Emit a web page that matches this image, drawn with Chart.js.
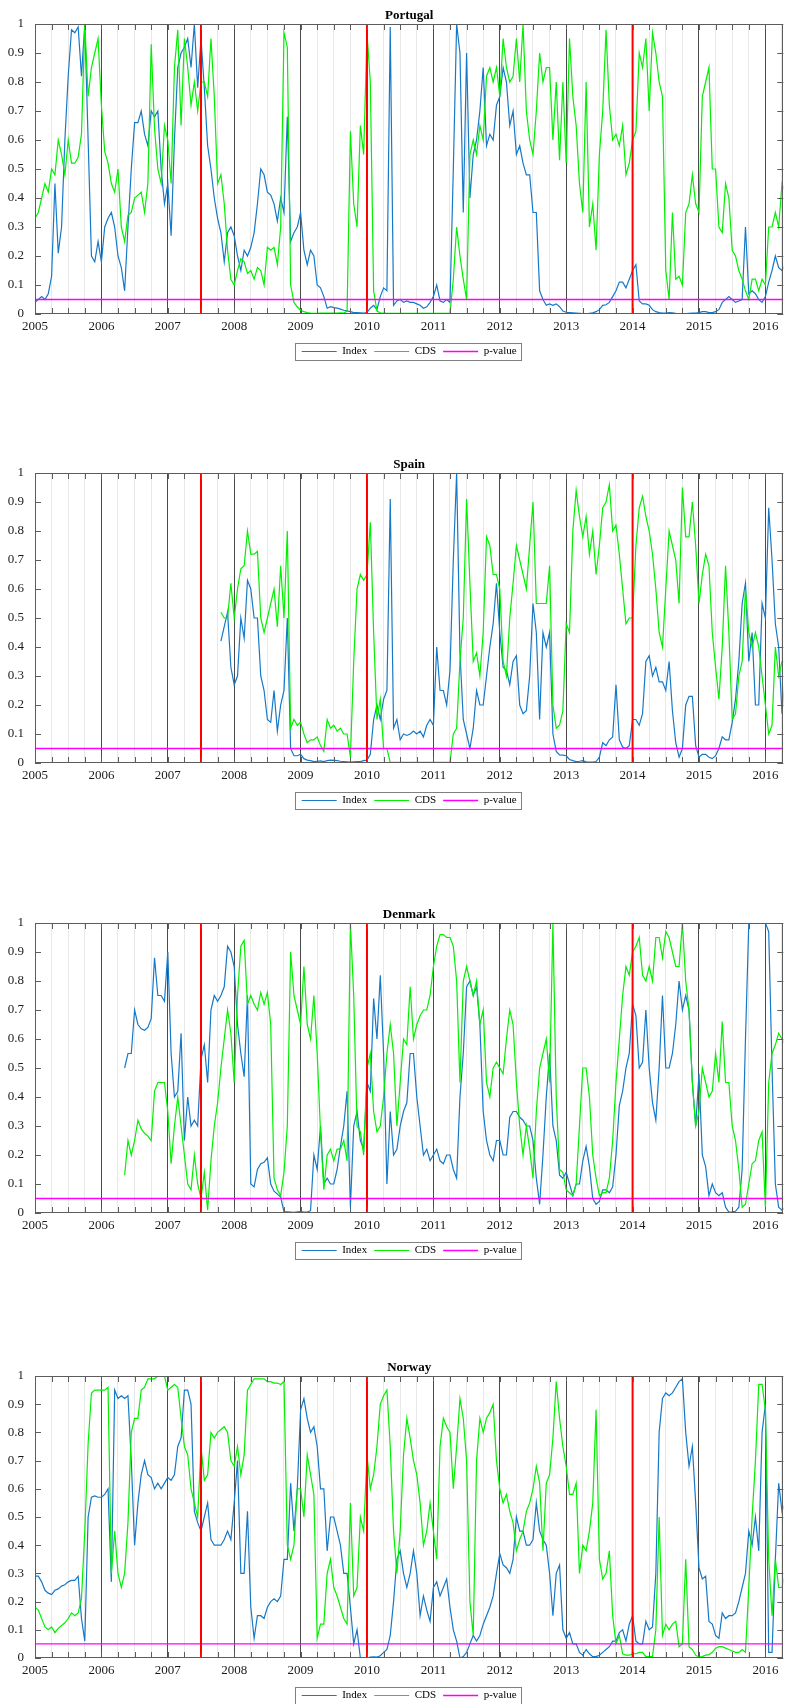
<!DOCTYPE html>
<html>
<head>
<meta charset="utf-8">
<script src="https://cdn.jsdelivr.net/npm/chart.js@4.4.1/dist/chart.umd.min.js"></script>
<style>
  html, body { margin: 0; padding: 0; background: #fff; }
  body { width: 787px; height: 1704px; position: relative; overflow: hidden; }
  .panel { position: absolute; left: 0; width: 787px; }
  .panel canvas { display: block; }
</style>
</head>
<body>
<div class="panel" style="top:0px"><canvas id="chart_0" width="787" height="367"></canvas></div>
<div class="panel" style="top:449px"><canvas id="chart_1" width="787" height="367"></canvas></div>
<div class="panel" style="top:899px"><canvas id="chart_2" width="787" height="367"></canvas></div>
<div class="panel" style="top:1352px"><canvas id="chart_3" width="787" height="359"></canvas></div>
<script>
// 日付軸 (2005年から0.05年刻み)
const START_YEAR = 2005;
const STEP = 0.05;
const X_MAX = 2016.27;
const breakYears = [2007.5, 2010, 2014];
const pValueLevel = 0.05;
const seriesNames = ["Index", "CDS", "p-value"];
const countries = ["Portugal", "Spain", "Denmark", "Norway"];

// Portugal
const portugalIndex = [
  0.04,0.05,0.06,0.05,0.07,0.13,0.45,0.21,0.30,0.60,0.82,0.98,0.97,0.99,0.82,1.00,0.60,0.20,0.18,0.25,
  0.18,0.30,0.33,0.35,0.30,0.20,0.16,0.08,0.30,0.50,0.66,0.66,0.70,0.62,0.58,0.70,0.68,0.70,0.50,0.38,
  0.45,0.27,0.60,0.85,0.90,0.92,0.95,0.85,1.00,0.78,0.95,0.78,0.58,0.50,0.40,0.33,0.28,0.18,0.28,0.30,
  0.27,0.20,0.15,0.22,0.20,0.23,0.28,0.38,0.50,0.48,0.42,0.41,0.38,0.32,0.40,0.35,0.68,0.25,0.28,0.30,
  0.35,0.22,0.17,0.22,0.20,0.10,0.09,0.06,0.02,0.025,0.022,0.02,0.017,0.013,0.011,0.008,0.005,0.005,0.004,0.003,
  0.005,0.02,0.03,0.015,0.06,0.09,0.08,0.99,0.03,0.045,0.05,0.04,0.045,0.04,0.04,0.035,0.03,0.02,0.025,0.04,
  0.06,0.10,0.045,0.04,0.05,0.04,0.50,1.00,0.90,0.35,0.90,0.40,0.55,0.60,0.70,0.85,0.58,0.62,0.60,0.72,
  0.75,0.85,0.80,0.65,0.70,0.55,0.58,0.52,0.48,0.48,0.35,0.35,0.08,0.05,0.03,0.035,0.03,0.035,0.025,0.01,
  0.006,0.005,0.004,0.003,0.002,0.001,0,0.002,0.004,0.008,0.015,0.03,0.032,0.04,0.06,0.08,0.11,0.11,0.09,0.12,
  0.15,0.17,0.045,0.035,0.035,0.03,0.015,0.008,0.005,0.003,0.003,0.005,0.004,0.002,0.001,0.001,0.001,0.002,0.003,0.003,
  0.005,0.008,0.008,0.005,0.005,0.008,0.015,0.04,0.05,0.06,0.05,0.04,0.045,0.05,0.30,0.07,0.08,0.07,0.05,0.04,
  0.06,0.11,0.15,0.20,0.16,0.15,0.17
];
const portugalCds = [
  0.33,0.35,0.40,0.45,0.42,0.50,0.48,0.60,0.55,0.48,0.60,0.52,0.52,0.54,0.62,1.00,0.75,0.85,0.90,0.95,
  0.72,0.56,0.52,0.45,0.42,0.50,0.30,0.25,0.34,0.35,0.40,0.41,0.42,0.35,0.45,0.93,0.64,0.50,0.45,0.65,
  0.60,0.45,0.85,0.98,0.65,0.95,0.85,0.72,0.80,0.70,0.80,0.80,0.75,0.95,0.75,0.45,0.48,0.38,0.22,0.12,
  0.10,0.15,0.19,0.18,0.14,0.15,0.12,0.16,0.15,0.10,0.23,0.22,0.23,0.17,0.30,0.97,0.92,0.10,0.04,0.025,
  0.012,0.008,0.005,0.003,0.002,0.002,0.003,0.003,0.003,0.003,0.003,0.003,0.004,0.003,0.01,0.63,0.38,0.30,0.65,0.55,
  0.97,0.80,0.08,0.01,0.004,0.003,0.002,0.002,0.002,0.002,0.002,0.002,0.002,0.002,0.002,0.002,0.002,0.002,0.002,0.002,
  0.002,0.002,0.002,0.002,0.002,0.002,0.12,0.30,0.20,0.12,0.05,0.55,0.60,0.55,0.65,0.60,0.82,0.85,0.80,0.85,
  0.75,0.95,0.85,0.80,0.82,0.95,0.80,1.00,0.70,0.60,0.55,0.70,0.90,0.80,0.85,0.85,0.60,0.80,0.53,0.80,
  0.52,0.95,0.75,0.65,0.45,0.35,0.80,0.30,0.38,0.22,0.55,0.70,0.98,0.72,0.60,0.62,0.58,0.65,0.48,0.52,
  0.60,0.63,0.90,0.85,0.95,0.70,0.97,0.90,0.80,0.75,0.15,0.05,0.35,0.12,0.13,0.10,0.35,0.38,0.48,0.38,
  0.35,0.75,0.80,0.85,0.50,0.50,0.30,0.28,0.45,0.40,0.22,0.20,0.15,0.12,0.08,0.05,0.12,0.12,0.08,0.12,
  0.10,0.30,0.30,0.35,0.30,0.45,0.42
];

// Spain
const spainIndex = [
  null,null,null,null,null,null,null,null,null,null,null,null,null,null,null,null,null,null,null,null,
  null,null,null,null,null,null,null,null,null,null,null,null,null,null,null,null,null,null,null,null,
  null,null,null,null,null,null,null,null,null,null,null,null,null,null,null,null,0.42,0.47,0.52,0.33,
  0.27,0.30,0.50,0.43,0.63,0.60,0.50,0.50,0.30,0.25,0.15,0.14,0.25,0.11,0.20,0.25,0.50,0.05,0.025,0.025,
  0.03,0.015,0.01,0.008,0.005,0.006,0.007,0.005,0.008,0.01,0.009,0.008,0.006,0.005,0.004,0.003,0.004,0.005,0.005,0.008,
  0.01,0.03,0.15,0.20,0.15,0.22,0.25,0.91,0.12,0.15,0.08,0.10,0.095,0.10,0.11,0.10,0.11,0.09,0.13,0.15,
  0.13,0.40,0.25,0.25,0.20,0.32,0.70,1.00,0.38,0.15,0.10,0.05,0.12,0.25,0.20,0.20,0.30,0.40,0.48,0.62,
  0.45,0.33,0.32,0.27,0.35,0.37,0.20,0.17,0.18,0.30,0.55,0.45,0.15,0.45,0.40,0.45,0.10,0.04,0.028,0.027,
  0.025,0.012,0.008,0.005,0.006,0.008,0.004,0.003,0.003,0.005,0.02,0.07,0.06,0.08,0.09,0.27,0.08,0.055,0.05,0.06,
  0.15,0.15,0.13,0.17,0.35,0.37,0.30,0.33,0.28,0.28,0.25,0.35,0.18,0.07,0.02,0.05,0.20,0.23,0.23,0.06,
  0.02,0.03,0.03,0.02,0.015,0.025,0.05,0.09,0.08,0.08,0.14,0.22,0.35,0.55,0.62,0.35,0.45,0.20,0.20,0.55,
  0.50,0.88,0.70,0.48,0.40,0.17,0.30
];
const spainCds = [
  null,null,null,null,null,null,null,null,null,null,null,null,null,null,null,null,null,null,null,null,
  null,null,null,null,null,null,null,null,null,null,null,null,null,null,null,null,null,null,null,null,
  null,null,null,null,null,null,null,null,null,null,null,null,null,null,null,null,0.52,0.50,0.50,0.62,
  0.50,0.60,0.67,0.68,0.80,0.72,0.72,0.73,0.50,0.45,0.50,0.55,0.60,0.47,0.68,0.50,0.80,0.12,0.15,0.13,
  0.14,0.10,0.07,0.08,0.08,0.09,0.06,0.04,0.15,0.12,0.13,0.11,0.12,0.10,0.10,0.02,0.35,0.60,0.65,0.63,
  0.65,0.83,0.45,0.15,0.22,0.05,0.05,0.002,0.002,0.002,0.002,0.002,0.002,0.002,0.002,0.002,0.002,0.002,0.002,0.002,
  0.002,0.002,0.002,0.002,0.002,0.002,0.10,0.12,0.35,0.50,0.91,0.62,0.35,0.38,0.30,0.45,0.78,0.75,0.65,0.65,
  0.60,0.35,0.30,0.50,0.62,0.75,0.70,0.65,0.60,0.75,0.90,0.55,0.55,0.55,0.55,0.68,0.20,0.12,0.13,0.18,
  0.48,0.45,0.80,0.94,0.85,0.78,0.85,0.72,0.80,0.65,0.75,0.88,0.90,0.96,0.80,0.82,0.72,0.60,0.48,0.50,
  0.50,0.75,0.88,0.92,0.85,0.80,0.72,0.60,0.45,0.40,0.60,0.80,0.75,0.70,0.55,0.95,0.78,0.78,0.90,0.75,
  0.55,0.65,0.72,0.68,0.45,0.33,0.22,0.40,0.68,0.45,0.15,0.17,0.30,0.35,0.60,0.45,0.40,0.45,0.40,0.30,
  0.20,0.10,0.13,0.40,0.30,0.35,0.35
];

// Denmark
const denmarkIndex = [
  null,null,null,null,null,null,null,null,null,null,null,null,null,null,null,null,null,null,null,null,
  null,null,null,null,null,null,null,0.50,0.55,0.55,0.70,0.65,0.635,0.63,0.64,0.67,0.88,0.75,0.75,0.73,
  0.90,0.55,0.40,0.42,0.62,0.25,0.40,0.30,0.32,0.30,0.53,0.58,0.45,0.70,0.75,0.73,0.75,0.78,0.92,0.90,
  0.85,0.65,0.55,0.47,0.75,0.10,0.09,0.15,0.17,0.175,0.19,0.10,0.075,0.065,0.055,0.004,0.004,0.003,0.002,0.004,
  0.005,0.003,0.003,0.008,0.20,0.15,0.30,0.10,0.12,0.10,0.10,0.15,0.23,0.30,0.42,0.02,0.30,0.35,0.25,0.22,
  0.45,0.42,0.74,0.60,0.82,0.55,0.10,0.35,0.20,0.22,0.30,0.35,0.38,0.55,0.55,0.40,0.30,0.20,0.22,0.18,
  0.20,0.22,0.18,0.17,0.20,0.20,0.15,0.12,0.40,0.55,0.78,0.80,0.75,0.78,0.65,0.35,0.25,0.20,0.18,0.25,
  0.25,0.20,0.20,0.33,0.35,0.35,0.33,0.32,0.30,0.30,0.25,0.12,0.03,0.20,0.40,0.55,0.30,0.25,0.13,0.12,
  0.14,0.10,0.06,0.10,0.10,0.18,0.23,0.16,0.05,0.03,0.04,0.08,0.08,0.07,0.09,0.20,0.37,0.42,0.50,0.55,
  0.72,0.68,0.50,0.52,0.70,0.50,0.38,0.32,0.50,0.75,0.50,0.50,0.55,0.65,0.80,0.70,0.75,0.70,0.45,0.30,
  0.48,0.20,0.16,0.06,0.10,0.07,0.06,0.07,0.02,0.003,0.004,0.006,0.02,0.15,0.60,1.00,1.00,1.00,1.00,1.00,
  1.00,0.97,0.50,0.10,0.02,0.01,0.02
];
const denmarkCds = [
  null,null,null,null,null,null,null,null,null,null,null,null,null,null,null,null,null,null,null,null,
  null,null,null,null,null,null,null,0.13,0.25,0.20,0.25,0.32,0.29,0.275,0.265,0.25,0.42,0.45,0.45,0.45,
  0.35,0.17,0.30,0.40,0.30,0.20,0.10,0.08,0.20,0.10,0.05,0.14,0.01,0.18,0.30,0.38,0.50,0.60,0.70,0.62,
  0.45,0.75,0.92,0.94,0.72,0.75,0.72,0.70,0.76,0.72,0.76,0.65,0.12,0.08,0.06,0.14,0.30,0.90,0.75,0.70,
  0.65,0.85,0.65,0.60,0.75,0.55,0.28,0.08,0.20,0.22,0.18,0.22,0.22,0.25,0.18,1.00,0.75,0.30,0.28,0.20,
  0.50,0.55,0.35,0.28,0.30,0.40,0.55,0.65,0.55,0.30,0.45,0.60,0.58,0.78,0.60,0.65,0.68,0.70,0.70,0.75,
  0.85,0.92,0.96,0.96,0.95,0.95,0.92,0.80,0.45,0.80,0.85,0.80,0.75,0.80,0.65,0.70,0.45,0.40,0.50,0.52,
  0.50,0.48,0.60,0.70,0.65,0.45,0.30,0.20,0.30,0.22,0.12,0.35,0.50,0.55,0.60,0.45,1.00,0.40,0.15,0.14,
  0.08,0.07,0.06,0.10,0.30,0.50,0.50,0.40,0.20,0.12,0.06,0.07,0.07,0.12,0.25,0.45,0.60,0.75,0.85,0.82,
  0.90,0.92,0.95,0.82,0.80,0.85,0.80,0.95,0.95,0.88,0.97,0.95,0.90,0.85,0.85,1.00,0.80,0.70,0.45,0.30,
  0.35,0.50,0.45,0.40,0.42,0.55,0.45,0.66,0.45,0.45,0.30,0.25,0.15,0.02,0.03,0.10,0.17,0.18,0.25,0.28,
  0.02,0.45,0.55,0.58,0.62,0.60,0.58
];

// Norway
const norwayIndex = [
  0.29,0.29,0.27,0.24,0.23,0.225,0.24,0.245,0.255,0.26,0.27,0.275,0.275,0.29,0.14,0.06,0.50,0.57,0.575,0.57,
  0.57,0.58,0.60,0.27,0.95,0.92,0.93,0.92,0.93,0.70,0.40,0.55,0.65,0.70,0.65,0.64,0.60,0.62,0.60,0.62,
  0.64,0.63,0.65,0.75,0.78,0.95,0.95,0.90,0.52,0.48,0.45,0.50,0.55,0.42,0.40,0.40,0.40,0.42,0.45,0.42,
  0.55,0.70,0.30,0.30,0.52,0.18,0.07,0.15,0.15,0.14,0.18,0.20,0.21,0.20,0.22,0.35,0.35,0.62,0.45,0.60,
  0.88,0.92,0.85,0.80,0.82,0.75,0.60,0.60,0.38,0.50,0.50,0.45,0.40,0.30,0.30,0.18,0.05,0.10,0,0,
  0,0.003,0.004,0.003,0.008,0.02,0.03,0.08,0.20,0.35,0.38,0.30,0.25,0.30,0.38,0.30,0.15,0.22,0.17,0.13,
  0.25,0.27,0.22,0.25,0.28,0.18,0.10,0.06,0,0.005,0.02,0.05,0.08,0.06,0.08,0.12,0.15,0.18,0.22,0.30,
  0.37,0.33,0.32,0.30,0.35,0.50,0.45,0.45,0.40,0.40,0.42,0.55,0.45,0.42,0.40,0.30,0.15,0.30,0.33,0.10,
  0.07,0.09,0.05,0.05,0.02,0.01,0.03,0.015,0.005,0.005,0.01,0.02,0.03,0.04,0.06,0.06,0.09,0.10,0.06,0.12,
  0.15,0.06,0.05,0.05,0.13,0.10,0.11,0.30,0.80,0.92,0.94,0.93,0.94,0.96,0.98,0.99,0.80,0.68,0.75,0.55,
  0.32,0.28,0.29,0.13,0.12,0.08,0.07,0.16,0.14,0.15,0.15,0.16,0.20,0.25,0.30,0.45,0.40,0.50,0.38,0.80,
  0.90,0.02,0.02,0.35,0.62,0.52,0.55
];
const norwayCds = [
  0.18,0.17,0.14,0.11,0.10,0.11,0.09,0.105,0.115,0.125,0.14,0.16,0.15,0.16,0.21,0.45,0.76,0.94,0.95,0.95,
  0.95,0.95,0.96,0.30,0.45,0.30,0.25,0.30,0.48,0.80,0.85,0.85,0.95,0.96,0.99,0.99,0.99,1.00,1.00,1.00,
  0.95,0.96,0.97,0.96,0.85,0.75,0.72,0.60,0.55,0.50,0.75,0.63,0.65,0.80,0.78,0.80,0.81,0.82,0.80,0.70,
  0.68,0.75,0.65,0.72,0.95,0.97,0.99,0.99,0.99,0.99,0.98,0.98,0.975,0.975,0.97,0.98,0.40,0.35,0.40,0.60,
  0.60,0.50,0.72,0.65,0.58,0.07,0.12,0.12,0.30,0.35,0.25,0.22,0.18,0.14,0.12,0.55,0.22,0.25,0.50,0.45,
  0.72,0.60,0.65,0.75,0.90,0.93,0.95,0.75,0.45,0.30,0.45,0.72,0.85,0.78,0.70,0.65,0.55,0.40,0.45,0.55,
  0.45,0.35,0.75,0.85,0.82,0.80,0.60,0.75,0.92,0.85,0.70,0.20,0.08,0.70,0.85,0.80,0.85,0.87,0.90,0.70,
  0.60,0.55,0.58,0.52,0.48,0.38,0.42,0.45,0.52,0.55,0.60,0.68,0.62,0.38,0.62,0.65,0.78,0.98,0.85,0.75,
  0.68,0.58,0.58,0.62,0.30,0.40,0.38,0.45,0.55,0.88,0.35,0.28,0.30,0.38,0.15,0.05,0.08,0.015,0.01,0.01,
  0.015,0.015,0.02,0.02,0.005,0.005,0.005,0.10,0.50,0.08,0.12,0.10,0.12,0.13,0.04,0.05,0.35,0.04,0.03,0.01,
  0.003,0.005,0.01,0.012,0.02,0.035,0.04,0.04,0.035,0.03,0.025,0.02,0.02,0.03,0.02,0.25,0.50,0.70,0.97,0.97,
  0.88,0.35,0.15,0.35,0.25,0.25,0.30
];

const dates = portugalIndex.map((v, i) => +(START_YEAR + i * STEP).toFixed(2));

// 色
const INDEX_COLOR = "#1679c8";
const CDS_COLOR = "#00f000";
const PVALUE_COLOR = "#ff00ff";
const BREAK_COLOR = "#ff0000";
const YEAR_LINE = "#4a4a4a";
const QUARTER_LINE = "#e8e8e8";
const FRAME_COLOR = "#5c5c5c";
const TEXT_COLOR = "#1a1a1a";
const FONT = "'Liberation Serif', 'Times New Roman', serif";

const isYear = v => Math.abs(v - Math.round(v)) < 1e-6;

const toPoints = values => values.map((v, i) => ({x: dates[i], y: v}));

// 枠と内向きの目盛り
const frameTicks = {
  id: "frameTicks",
  afterDatasetsDraw(chart) {
    const {ctx, chartArea: a, scales: {x, y}} = chart;
    const len = 6;
    ctx.save();
    ctx.strokeStyle = FRAME_COLOR;
    ctx.lineWidth = 1;
    ctx.beginPath();
    x.ticks.forEach(t => {
      const px = Math.round(x.getPixelForValue(t.value)) + 0.5;
      ctx.moveTo(px, a.top); ctx.lineTo(px, a.top + len);
      ctx.moveTo(px, a.bottom); ctx.lineTo(px, a.bottom - len);
    });
    y.ticks.forEach(t => {
      const py = Math.round(y.getPixelForValue(t.value)) + 0.5;
      ctx.moveTo(a.left, py); ctx.lineTo(a.left + len, py);
      ctx.moveTo(a.right, py); ctx.lineTo(a.right - len, py);
    });
    ctx.stroke();
    ctx.strokeRect(Math.round(a.left) + 0.5, Math.round(a.top) + 0.5,
      Math.round(a.right - a.left) - 1, Math.round(a.bottom - a.top) - 1);
    ctx.restore();
  },
  afterDraw(chart) {
    // 凡例の枠
    const boxes = chart.legend.legendHitBoxes;
    if (!boxes || !boxes.length) return;
    const left = Math.min(...boxes.map(b => b.left));
    const right = Math.max(...boxes.map(b => b.left + b.width));
    const top = Math.min(...boxes.map(b => b.top));
    const bottom = Math.max(...boxes.map(b => b.top + b.height));
    const ctx = chart.ctx;
    ctx.save();
    ctx.strokeStyle = "#808080";
    ctx.lineWidth = 1;
    ctx.strokeRect(Math.round(left - 7) + 0.5, Math.round(top - 3) + 0.5,
      Math.round(right - left + 11), Math.round(bottom - top + 6));
    ctx.restore();
  }
};

function makeConfig(name, indexValues, cdsValues) {
  const datasets = [
    {label: seriesNames[0], data: toPoints(indexValues), borderColor: INDEX_COLOR, backgroundColor: INDEX_COLOR, borderWidth: 1.2, order: 4},
    {label: seriesNames[1], data: toPoints(cdsValues), borderColor: CDS_COLOR, backgroundColor: CDS_COLOR, borderWidth: 1.2, order: 3},
    {label: seriesNames[2], data: [{x: START_YEAR, y: pValueLevel}, {x: X_MAX, y: pValueLevel}], borderColor: PVALUE_COLOR, backgroundColor: PVALUE_COLOR, borderWidth: 1.3, order: 2}
  ];
  breakYears.forEach(b => {
    datasets.push({label: "", data: [{x: b, y: 0}, {x: b, y: 1}], borderColor: BREAK_COLOR, backgroundColor: BREAK_COLOR, borderWidth: 2, order: 1});
  });
  return {
    type: "line",
    data: {datasets: datasets},
    options: {
      responsive: false,
      animation: false,
      events: [],
      elements: {point: {radius: 0}, line: {tension: 0}},
      layout: {padding: {left: 0, right: 1, top: 0, bottom: 0}},
      scales: {
        x: {
          type: "linear",
          min: START_YEAR,
          max: X_MAX,
          border: {display: false},
          grid: {
            drawTicks: false,
            color: c => isYear(c.tick.value) ? YEAR_LINE : QUARTER_LINE,
            lineWidth: 1
          },
          ticks: {
            stepSize: 0.25,
            includeBounds: false,
            autoSkip: false,
            maxRotation: 0,
            padding: 5,
            color: TEXT_COLOR,
            font: {family: FONT, size: 13},
            callback: v => isYear(v) ? String(Math.round(v)) : ""
          },
          afterFit: s => { s.height = 25; }
        },
        y: {
          min: 0,
          max: 1,
          border: {display: false},
          grid: {display: false},
          ticks: {
            stepSize: 0.1,
            padding: 3,
            color: TEXT_COLOR,
            font: {family: FONT, size: 13},
            callback: v => String(+v.toFixed(1))
          },
          afterFit: s => { s.width = 35; }
        }
      },
      plugins: {
        title: {
          display: true,
          text: name,
          fullSize: false,
          color: "#000",
          font: {family: FONT, size: 13, weight: "bold", lineHeight: 1.2},
          padding: {top: 8, bottom: 0.4}
        },
        legend: {
          position: "bottom",
          fullSize: false,
          labels: {
            usePointStyle: true,
            pointStyle: "line",
            pointStyleWidth: 35,
            padding: 7,
            color: "#000",
            font: {family: FONT, size: 11},
            filter: item => item.text !== "",
            sort: (a, b) => a.datasetIndex - b.datasetIndex
          }
        },
        tooltip: {enabled: false}
      }
    },
    plugins: [frameTicks]
  };
}

const panelData = [
  [portugalIndex, portugalCds],
  [spainIndex, spainCds],
  [denmarkIndex, denmarkCds],
  [norwayIndex, norwayCds]
];

const charts = {};
countries.forEach((name, i) => {
  const ctx = document.getElementById("chart_" + i).getContext("2d");
  charts[name] = new Chart(ctx, makeConfig(name, panelData[i][0], panelData[i][1]));
});
</script>
</body>
</html>
